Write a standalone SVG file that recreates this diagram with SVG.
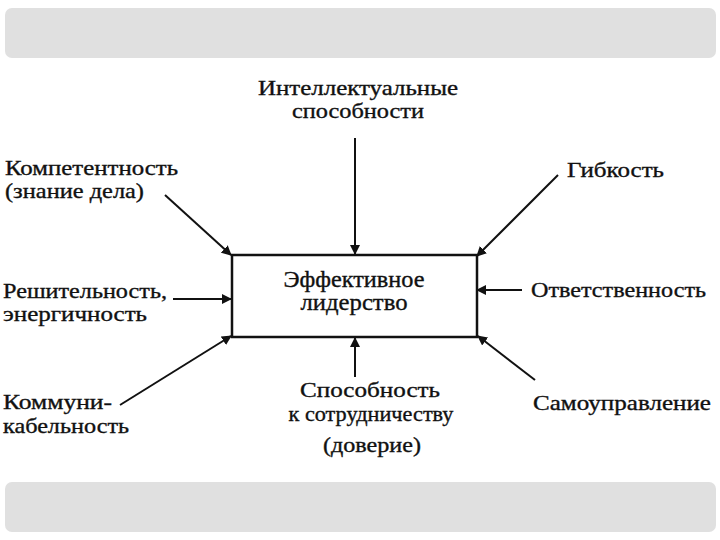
<svg xmlns="http://www.w3.org/2000/svg" width="720" height="540" viewBox="0 0 720 540">
<style>
.band{fill:#e0e0e0}
.t{font-family:"Liberation Serif","Times New Roman",serif;font-size:21px;fill:#111;stroke:#111;stroke-width:0.35}
.big{font-size:23px}
.c{text-anchor:middle}
.ln{stroke:#111;stroke-width:2;fill:none;marker-end:url(#ah)}
.box{fill:#fff;stroke:#111;stroke-width:2.5}
</style>
<defs>
<marker id="ah" viewBox="0 0 10 10" refX="9" refY="5" markerWidth="5" markerHeight="5" orient="auto" markerUnits="strokeWidth">
<path d="M0,0 L10,5 L0,10 z" fill="#111"/>
</marker>
</defs>
<rect width="720" height="540" fill="#fff"/>
<rect class="band" x="5" y="8" width="711" height="50" rx="7"/>
<rect class="band" x="5" y="482" width="711" height="50" rx="7"/>
<g id="connectors">
<line class="ln" x1="355" y1="138" x2="355" y2="254"/>
<line class="ln" x1="355" y1="377" x2="355" y2="338"/>
<line class="ln" x1="165" y1="195" x2="231" y2="255"/>
<line class="ln" x1="173" y1="299" x2="231" y2="299"/>
<line class="ln" x1="120" y1="405" x2="231" y2="336"/>
<line class="ln" x1="558" y1="175" x2="477" y2="256"/>
<line class="ln" x1="522" y1="290" x2="477" y2="290"/>
<line class="ln" x1="535" y1="380" x2="478" y2="336"/>
</g>
<g id="center">
<rect class="box" x="232" y="255" width="245" height="82"/>
<text class="t big c" x="354" y="287" textLength="141" lengthAdjust="spacingAndGlyphs">Эффективное</text>
<text class="t big c" x="354" y="310" textLength="107" lengthAdjust="spacingAndGlyphs">лидерство</text>
</g>
<g id="intellect">
<text class="t c" x="358" y="95" textLength="200" lengthAdjust="spacingAndGlyphs">Интеллектуальные</text>
<text class="t c" x="358" y="118" textLength="132" lengthAdjust="spacingAndGlyphs">способности</text>
</g>
<g id="competence">
<text class="t" x="5" y="175" textLength="173" lengthAdjust="spacingAndGlyphs">Компетентность</text>
<text class="t" x="5" y="198" textLength="139" lengthAdjust="spacingAndGlyphs">(знание дела)</text>
</g>
<g id="decisiveness">
<text class="t" x="3" y="298" textLength="164" lengthAdjust="spacingAndGlyphs">Решительность,</text>
<text class="t" x="3" y="321" textLength="144" lengthAdjust="spacingAndGlyphs">энергичность</text>
</g>
<g id="communication">
<text class="t" x="3" y="409" textLength="109" lengthAdjust="spacingAndGlyphs">Коммуни-</text>
<text class="t" x="3" y="433" textLength="126" lengthAdjust="spacingAndGlyphs">кабельность</text>
</g>
<g id="flexibility">
<text class="t" x="567" y="177" textLength="97" lengthAdjust="spacingAndGlyphs">Гибкость</text>
</g>
<g id="responsibility">
<text class="t" x="531" y="297" textLength="175" lengthAdjust="spacingAndGlyphs">Ответственность</text>
</g>
<g id="selfmanagement">
<text class="t" x="533" y="410" textLength="178" lengthAdjust="spacingAndGlyphs">Самоуправление</text>
</g>
<g id="cooperation">
<text class="t c" x="370" y="397" textLength="140" lengthAdjust="spacingAndGlyphs">Способность</text>
<text class="t c" x="371" y="421" textLength="165" lengthAdjust="spacingAndGlyphs">к сотрудничеству</text>
<text class="t c" x="372" y="452" textLength="98" lengthAdjust="spacingAndGlyphs">(доверие)</text>
</g>
</svg>
